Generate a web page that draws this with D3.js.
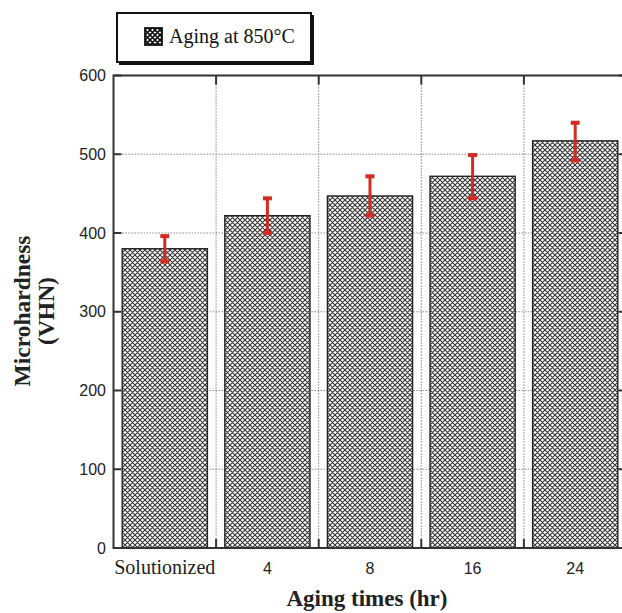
<!DOCTYPE html>
<html>
<head>
<meta charset="utf-8">
<script src="https://cdn.jsdelivr.net/npm/d3@7/dist/d3.min.js"></script>
<style>
  body { margin: 0; background: #fff; }
  svg { display: block; }
</style>
</head>
<body>
<div id="chart"></div>
<script>
// data
var categories = ["Solutionized", "4", "8", "16", "24"];
var hardness = [380, 422, 447, 472, 517];
var errLow = [364, 400, 422, 444, 492];
var errHigh = [396, 444, 472, 499, 540];
var yTicks = [0, 100, 200, 300, 400, 500, 600];

var width = 622;
var height = 613;
// plot box (right edge runs just past the picture, as in the original)
var plotL = 113.5, plotR = 626.5, plotT = 75.5, plotB = 548;

var svg = d3.select("#chart").append("svg")
    .attr("width", width)
    .attr("height", height);

var defs = svg.append("defs");
var pat = defs.append("pattern")
    .attr("id", "hatch")
    .attr("patternUnits", "userSpaceOnUse")
    .attr("width", 5)
    .attr("height", 5);
pat.append("rect").attr("width", 5).attr("height", 5).attr("fill", "#fff");
pat.append("path")
    .attr("d", "M0,0L5,5M5,0L0,5M-1,4L1,6M4,-1L6,1M-1,1L1,-1M4,6L6,4")
    .attr("stroke", "#333")
    .attr("stroke-width", 1.1);

// darker swatch pattern for the legend
var pat2 = defs.append("pattern")
    .attr("id", "hatchDark")
    .attr("patternUnits", "userSpaceOnUse")
    .attr("width", 5)
    .attr("height", 5);
pat2.append("rect").attr("width", 5).attr("height", 5).attr("fill", "#fff");
pat2.append("path")
    .attr("d", "M0,0L5,5M5,0L0,5M-1,4L1,6M4,-1L6,1M-1,1L1,-1M4,6L6,4")
    .attr("stroke", "#111")
    .attr("stroke-width", 1.6);

var x = d3.scaleBand()
    .domain(categories)
    .range([plotL, plotR])
    .paddingInner(0.17)
    .paddingOuter(0.085);

var y = d3.scaleLinear()
    .domain([0, 600])
    .range([plotB, plotT]);

var step = x.step();
var bounds = categories.slice(1).map(function (c) { return x(c) - step * 0.085; });

/* horizontal dotted grid, behind the bars */
svg.append("g").selectAll("line")
    .data(yTicks.slice(1, -1))
    .enter().append("line")
    .attr("x1", plotL).attr("x2", plotR)
    .attr("y1", function (d) { return y(d); })
    .attr("y2", function (d) { return y(d); })
    .attr("stroke", "#8a8a8a")
    .attr("stroke-width", 1.2)
    .attr("stroke-dasharray", "1.5,1.5");

/* vertical dotted grid between bars */
svg.append("g").selectAll("line")
    .data(bounds)
    .enter().append("line")
    .attr("x1", function (d) { return d; })
    .attr("x2", function (d) { return d; })
    .attr("y1", plotT).attr("y2", plotB)
    .attr("stroke", "#444")
    .attr("stroke-width", 1)
    .attr("stroke-dasharray", "1,2");

/* bars */
svg.append("g").selectAll("rect")
    .data(categories)
    .enter().append("rect")
    .attr("x", function (d) { return x(d); })
    .attr("y", function (d, i) { return y(hardness[i]); })
    .attr("width", x.bandwidth())
    .attr("height", function (d, i) { return plotB - y(hardness[i]); })
    .attr("fill", "url(#hatch)")
    .attr("stroke", "#222")
    .attr("stroke-width", 1.4);

/* error bars */
var eb = svg.append("g").selectAll("g")
    .data(categories)
    .enter().append("g");
eb.append("line")
    .attr("x1", function (d) { return x(d) + x.bandwidth() / 2; })
    .attr("x2", function (d) { return x(d) + x.bandwidth() / 2; })
    .attr("y1", function (d, i) { return y(errHigh[i]); })
    .attr("y2", function (d, i) { return y(errLow[i]); })
    .attr("stroke", "#d42a22")
    .attr("stroke-width", 3);
eb.append("rect")
    .attr("x", function (d) { return x(d) + x.bandwidth() / 2 - 4.5; })
    .attr("y", function (d, i) { return y(errHigh[i]) - 2; })
    .attr("width", 9).attr("height", 4)
    .attr("fill", "#d42a22");
eb.append("rect")
    .attr("x", function (d) { return x(d) + x.bandwidth() / 2 - 4.5; })
    .attr("y", function (d, i) { return y(errLow[i]) - 2; })
    .attr("width", 9).attr("height", 4)
    .attr("fill", "#d42a22");

/* frame and inward ticks */
svg.append("rect")
    .attr("x", plotL).attr("y", plotT)
    .attr("width", plotR - plotL).attr("height", plotB - plotT)
    .attr("fill", "none")
    .attr("stroke", "#333")
    .attr("stroke-width", 2);

var tickG = svg.append("g").attr("stroke", "#333").attr("stroke-width", 2);
yTicks.forEach(function (t) {
    tickG.append("line").attr("x1", plotL).attr("x2", plotL + 8).attr("y1", y(t)).attr("y2", y(t));
    tickG.append("line").attr("x1", plotR).attr("x2", plotR - 8).attr("y1", y(t)).attr("y2", y(t));
});
bounds.forEach(function (b) {
    tickG.append("line").attr("x1", b).attr("x2", b).attr("y1", plotT).attr("y2", plotT + 9);
    tickG.append("line").attr("x1", b).attr("x2", b).attr("y1", plotB).attr("y2", plotB - 9);
});

/* y tick labels */
svg.append("g").selectAll("text")
    .data(yTicks)
    .enter().append("text")
    .attr("x", 106)
    .attr("y", function (d) { return y(d) + 5.5; })
    .attr("text-anchor", "end")
    .attr("font-family", "Liberation Sans, Arial, sans-serif")
    .attr("font-size", "16px")
    .attr("fill", "#222")
    .text(function (d) { return d; });

/* x tick labels */
svg.append("g").selectAll("text")
    .data(categories)
    .enter().append("text")
    .attr("x", function (d) { return x(d) + x.bandwidth() / 2; })
    .attr("y", 574)
    .attr("text-anchor", "middle")
    .attr("font-family", function (d, i) { return i === 0 ? "Liberation Serif, Times New Roman, serif" : "Liberation Sans, Arial, sans-serif"; })
    .attr("font-size", function (d, i) { return i === 0 ? "20px" : "16px"; })
    .attr("fill", "#222")
    .text(function (d) { return d; });

/* axis titles */
svg.append("text")
    .attr("x", 367)
    .attr("y", 606)
    .attr("text-anchor", "middle")
    .attr("font-family", "Liberation Serif, Times New Roman, serif")
    .attr("font-weight", "bold")
    .attr("font-size", "23px")
    .attr("fill", "#222")
    .text("Aging times (hr)");

var yt = svg.append("text")
    .attr("transform", "translate(0,311) rotate(-90)")
    .attr("text-anchor", "middle")
    .attr("font-family", "Liberation Serif, Times New Roman, serif")
    .attr("font-weight", "bold")
    .attr("font-size", "23.5px")
    .attr("fill", "#222");
yt.append("tspan").attr("x", 0).attr("y", 30).text("Microhardness");
yt.append("tspan").attr("x", 0).attr("y", 54).text("(VHN)");

/* legend */
var lg = svg.append("g");
lg.append("rect")
    .attr("x", 119).attr("y", 15).attr("width", 195).attr("height", 50)
    .attr("fill", "#111");
lg.append("rect")
    .attr("x", 117).attr("y", 13).attr("width", 194).attr("height", 49)
    .attr("fill", "#fff")
    .attr("stroke", "#111")
    .attr("stroke-width", 2);
lg.append("rect")
    .attr("x", 145).attr("y", 28).attr("width", 17).attr("height", 17)
    .attr("fill", "url(#hatchDark)")
    .attr("stroke", "#111")
    .attr("stroke-width", 1.8);
lg.append("text")
    .attr("x", 169).attr("y", 43)
    .attr("font-family", "Liberation Serif, Times New Roman, serif")
    .attr("font-size", "20px")
    .attr("fill", "#111")
    .text("Aging at 850°C");
</script>
</body>
</html>
